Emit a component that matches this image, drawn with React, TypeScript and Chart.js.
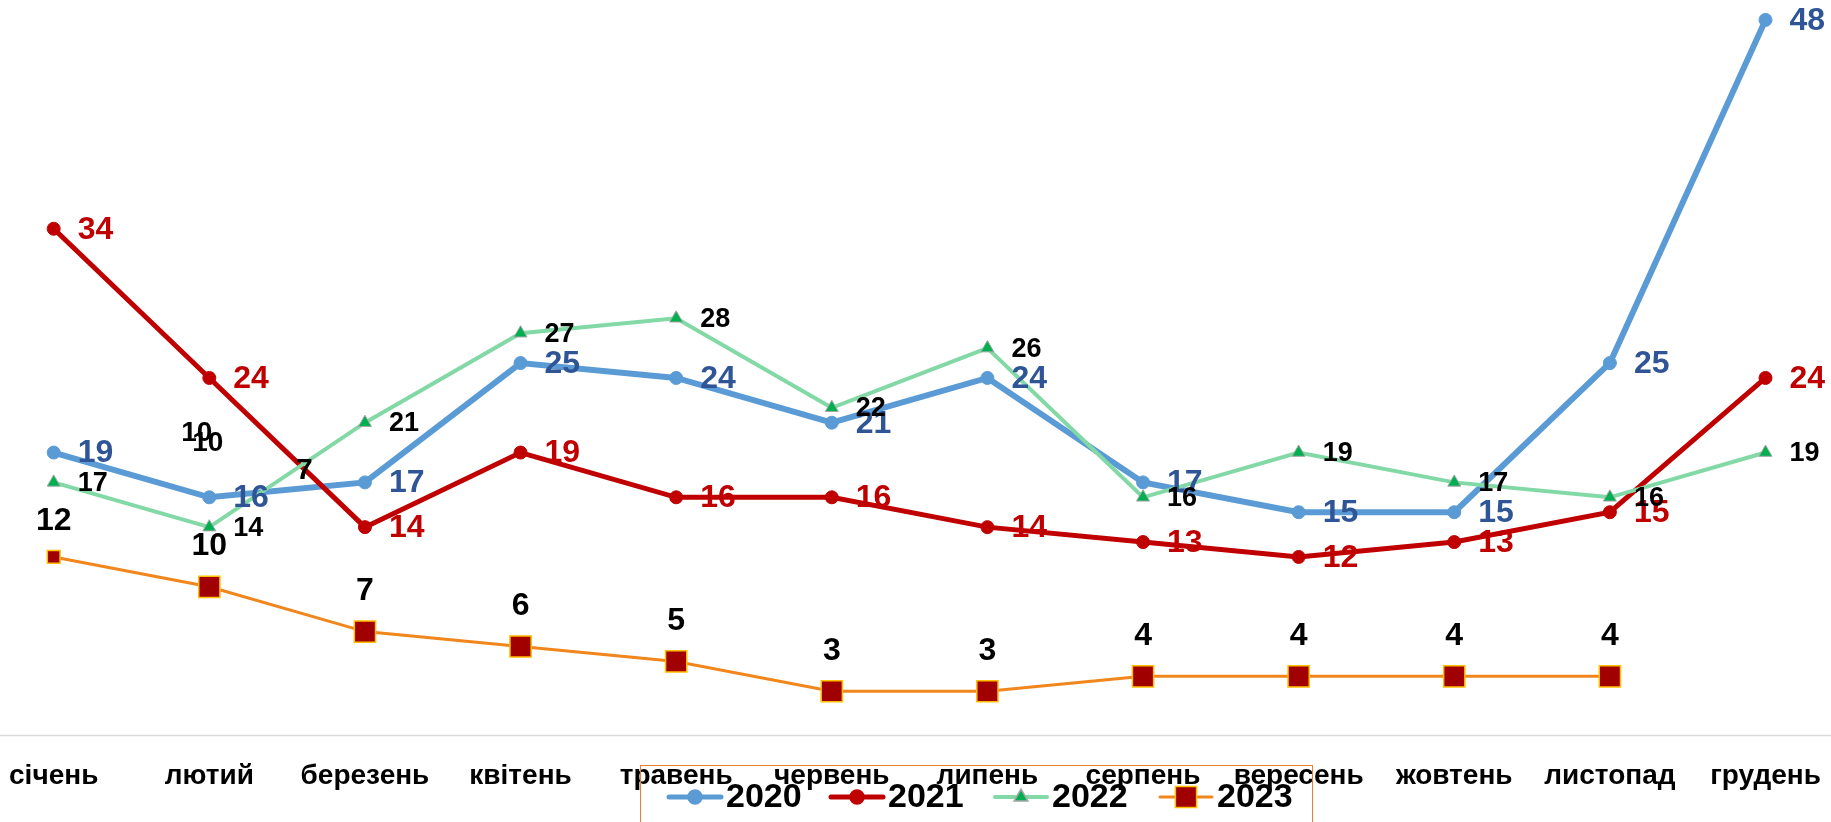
import React, { useEffect, useRef } from 'react';
import { Chart, registerables } from 'chart.js';

Chart.register(...registerables);

const months = ['січень', 'лютий', 'березень', 'квітень', 'травень', 'червень', 'липень', 'серпень', 'вересень', 'жовтень', 'листопад', 'грудень'];
const s2020 = [19, 16, 17, 25, 24, 21, 24, 17, 15, 15, 25, 48];
const s2021 = [34, 24, 14, 19, 16, 16, 14, 13, 12, 13, 15, 24];
const s2022 = [17, 14, 21, 27, 28, 22, 26, 16, 19, 17, 16, 19];
const s2023 = [12, 10, 7, 6, 5, 3, 3, 4, 4, 4, 4, null];
const seriesNames = ['2020', '2021', '2022', '2023'];
// loose labels seen in the picture (category index, value, text)
const strayLabels = [
  { x: 0.92, y: 20.3, text: '10' },
  { x: 0.99, y: 19.6, text: '10' },
  { x: 1.61, y: 17.8, text: '7' },
];

const FONT = '"Liberation Sans", Arial, sans-serif';
const W = 1831;
const H = 822;

const colors = {
  c2020: '#5B9BD5',
  c2021: '#C00000',
  c2022line: '#83D9A6',
  c2022pt: '#00B050',
  c2023line: '#F0861C',
  c2023pt: '#A00000',
  c2023border: '#FFC000',
};

const r2023 = s2023.map((_, i) => (i === 0 ? 9 : 15));

const labelStyles = [
  { font: `bold 32px ${FONT}`, color: '#2F5597', pos: 'right' },
  { font: `bold 32px ${FONT}`, color: '#C00000', pos: 'right' },
  { font: `bold 27px ${FONT}`, color: '#000000', pos: 'right' },
  { font: `bold 32px ${FONT}`, color: '#000000', pos: 'above' },
];

const labelsPlugin = {
  id: 'customLabels',
  afterDatasetsDraw(chart: any) {
    const ctx = chart.ctx;
    const xs = chart.scales.x;
    const ys = chart.scales.y;
    // axis line
    ctx.save();
    ctx.strokeStyle = '#D9D9D9';
    ctx.lineWidth = 1.5;
    ctx.beginPath();
    ctx.moveTo(0, ys.getPixelForValue(0) - 0.5);
    ctx.lineTo(W, ys.getPixelForValue(0) - 0.5);
    ctx.stroke();
    ctx.restore();

    chart.data.datasets.forEach((ds: any, i: number) => {
      const meta = chart.getDatasetMeta(i);
      const st = labelStyles[i];
      meta.data.forEach((pt: any, j: number) => {
        const v = ds.data[j];
        if (v == null) return;
        ctx.save();
        ctx.font = st.font;
        ctx.fillStyle = st.color;
        if (st.pos === 'right') {
          ctx.textAlign = 'left';
          ctx.textBaseline = 'middle';
          ctx.fillText(String(v), pt.x + 24, pt.y + 1);
        } else {
          ctx.textAlign = 'center';
          ctx.textBaseline = 'alphabetic';
          ctx.fillText(String(v), pt.x, pt.y - r2023[j] * 0.707 - 21);
        }
        ctx.restore();
      });
    });

    strayLabels.forEach((s) => {
      ctx.save();
      ctx.font = `bold ${s.text === '7' ? 30 : 28}px ${FONT}`;
      ctx.fillStyle = '#000';
      ctx.textAlign = 'center';
      ctx.textBaseline = 'middle';
      ctx.fillText(s.text, xs.getPixelForValue(s.x), ys.getPixelForValue(s.y));
      ctx.restore();
    });

    // x labels
    ctx.save();
    ctx.font = `bold 28px ${FONT}`;
    ctx.fillStyle = '#000';
    ctx.textAlign = 'center';
    ctx.textBaseline = 'middle';
    months.forEach((m, i) => {
      ctx.fillText(m, xs.getPixelForValue(i), 776);
    });
    ctx.restore();

    // legend
    ctx.save();
    ctx.strokeStyle = '#ED7D31';
    ctx.lineWidth = 1;
    ctx.strokeRect(640.5, 765.5, 672, 70);
    const items = [
      { x: 669, line: colors.c2020, lw: 5, style: 'circle', fill: colors.c2020, border: colors.c2020, r: 7 },
      { x: 831, line: colors.c2021, lw: 5, style: 'circle', fill: colors.c2021, border: colors.c2021, r: 7 },
      { x: 995, line: colors.c2022line, lw: 4, style: 'triangle', fill: colors.c2022pt, border: '#A5A5A5', r: 8 },
      { x: 1160, line: colors.c2023line, lw: 3, style: 'rect', fill: colors.c2023pt, border: colors.c2023border, r: 15 },
    ];
    const ly = 797;
    items.forEach((it, i) => {
      ctx.strokeStyle = it.line;
      ctx.lineWidth = it.lw;
      ctx.lineCap = 'round';
      ctx.beginPath();
      ctx.moveTo(it.x, ly);
      ctx.lineTo(it.x + 52, ly);
      ctx.stroke();
      ctx.fillStyle = it.fill;
      ctx.strokeStyle = it.border;
      ctx.lineWidth = 1.5;
      const cx = it.x + 26;
      ctx.beginPath();
      if (it.style === 'circle') {
        ctx.arc(cx, ly, it.r, 0, Math.PI * 2);
      } else if (it.style === 'triangle') {
        ctx.moveTo(cx, ly - it.r);
        ctx.lineTo(cx + it.r * 0.866, ly + it.r * 0.5);
        ctx.lineTo(cx - it.r * 0.866, ly + it.r * 0.5);
        ctx.closePath();
      } else {
        const h = it.r * 0.707;
        ctx.rect(cx - h, ly - h, 2 * h, 2 * h);
      }
      ctx.fill();
      ctx.stroke();
      ctx.fillStyle = '#000';
      ctx.font = `bold 34px ${FONT}`;
      ctx.textAlign = 'left';
      ctx.textBaseline = 'middle';
      ctx.fillText(seriesNames[i], it.x + 57, ly + 1);
    });
    ctx.restore();
  },
};

export default function App() {
  const ref = useRef<HTMLCanvasElement | null>(null);
  useEffect(() => {
    document.body.style.margin = '0';
    const canvas = ref.current;
    if (!canvas) return;
    Chart.defaults.font.family = FONT;
    const chart = new Chart(canvas, {
      type: 'line',
      data: {
        labels: months,
        datasets: [
          {
            label: seriesNames[0],
            data: s2020,
            borderColor: colors.c2020,
            backgroundColor: colors.c2020,
            borderWidth: 6,
            pointRadius: 6.5,
            pointBorderWidth: 1,
            pointStyle: 'circle',
            order: 4,
            clip: false,
          },
          {
            label: seriesNames[1],
            data: s2021,
            borderColor: colors.c2021,
            backgroundColor: colors.c2021,
            borderWidth: 5,
            pointRadius: 6.5,
            pointBorderWidth: 1,
            pointStyle: 'circle',
            order: 3,
            clip: false,
          },
          {
            label: seriesNames[2],
            data: s2022,
            borderColor: colors.c2022line,
            backgroundColor: colors.c2022pt,
            pointBorderColor: '#A5A5A5',
            borderWidth: 4,
            pointRadius: 7.5,
            pointBorderWidth: 1,
            pointStyle: 'triangle',
            order: 2,
            clip: false,
          },
          {
            label: seriesNames[3],
            data: s2023,
            borderColor: colors.c2023line,
            backgroundColor: colors.c2023pt,
            pointBorderColor: colors.c2023border,
            borderWidth: 3,
            pointRadius: r2023,
            pointBorderWidth: 1.5,
            pointStyle: 'rect',
            order: 1,
            clip: false,
          },
        ],
      },
      options: {
        responsive: false,
        animation: false,
        devicePixelRatio: 1,
        layout: { padding: { left: 53.7, right: W - 1765.5, top: 19.9, bottom: H - 736 } },
        scales: {
          x: { type: 'category', display: false, offset: false },
          y: { min: 0, max: 48, display: false },
        },
        plugins: {
          legend: { display: false },
          tooltip: { enabled: false },
        },
        elements: { line: { tension: 0 } },
      },
      plugins: [labelsPlugin],
    });
    return () => chart.destroy();
  }, []);
  return (
    <div style={{ position: 'absolute', left: 0, top: 0, width: W, height: H }}>
      <canvas ref={ref} width={W} height={H} style={{ width: W, height: H }} />
    </div>
  );
}
